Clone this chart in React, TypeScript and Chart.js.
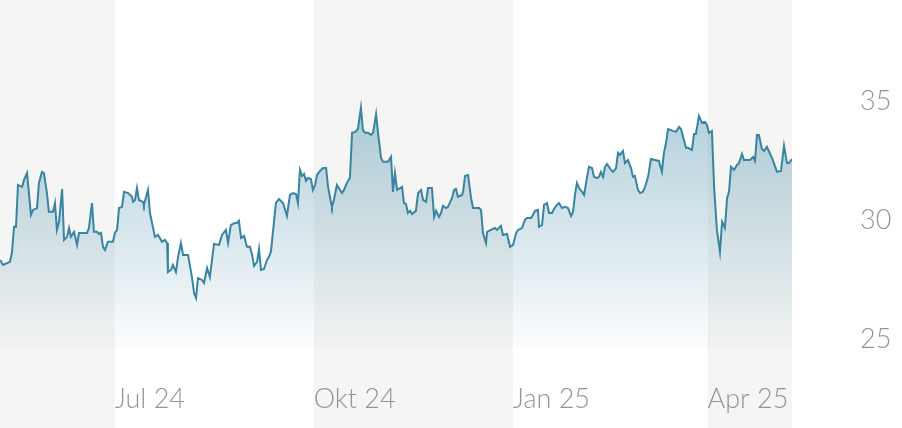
import { useEffect, useRef } from "react";
import { Chart, registerables } from "chart.js";

Chart.register(...registerables);

// Day offsets from 9 May 2024
const tickDays = [53, 145, 237, 327];
const tickLabels = ["Jul 24", "Okt 24", "Jan 25", "Apr 25"];
const yTicks = [25, 30, 35];

const days = [
  0.0, 1.4, 4.6, 5.5, 6.5, 7.4, 8.3, 10.2, 11.1, 12.5, 14.3, 15.3, 17.1, 18.0, 19.4, 20.3, 21.7, 22.6, 24.5, 25.4,
  26.3, 27.3, 28.7, 29.6, 31.0, 31.9, 32.8, 34.2, 35.6, 36.5, 40.2, 41.1, 42.5, 43.4, 44.8, 45.7, 46.7, 47.6, 48.5, 49.9,
  52.2, 53.1, 54.1, 55.0, 56.4, 57.3, 59.2, 61.0, 61.5, 62.4, 63.3, 64.2, 66.1, 66.5, 68.4, 69.3, 71.6, 73.0, 74.9, 76.2,
  77.2, 77.6, 79.0, 79.9, 81.3, 82.3, 83.6, 84.6, 86.9, 88.7, 89.7, 90.6, 91.5, 93.3, 94.3, 95.7, 97.0, 98.9, 101.2, 102.6,
  104.4, 105.4, 106.7, 108.6, 109.5, 110.4, 111.4, 112.8, 114.1, 115.5, 116.5, 117.4, 118.8, 119.7, 120.6, 122.0, 123.4, 124.3, 125.2, 127.5,
  128.9, 130.8, 132.6, 134.0, 135.4, 136.8, 137.7, 138.6, 139.6, 140.5, 141.4, 142.3, 143.7, 144.6, 145.6, 146.5, 147.9, 149.3, 150.7, 151.6,
  153.0, 153.4, 154.3, 155.7, 157.1, 158.0, 159.0, 159.9, 160.8, 161.7, 162.7, 164.1, 165.4, 166.8, 167.7, 168.7, 170.1, 171.4, 172.4, 173.8,
  174.7, 176.1, 177.0, 179.3, 180.7, 181.6, 182.5, 183.5, 185.8, 186.7, 187.6, 188.5, 189.5, 190.4, 192.2, 193.2, 194.6, 195.5, 196.9, 197.8,
  199.6, 200.6, 201.5, 202.9, 203.8, 204.7, 206.1, 207.0, 208.9, 209.8, 210.7, 211.6, 213.5, 214.0, 214.9, 216.3, 217.7, 218.6, 221.4, 222.3,
  223.2, 224.6, 225.1, 226.9, 228.7, 229.7, 231.5, 232.4, 234.3, 235.7, 237.1, 238.5, 239.4, 241.2, 242.6, 243.5, 245.4, 246.3, 247.2, 248.6,
  249.1, 250.5, 251.4, 252.8, 253.7, 255.1, 256.0, 257.4, 258.3, 259.7, 261.1, 262.5, 263.9, 264.8, 265.7, 266.6, 267.6, 269.0, 269.9, 271.3,
  272.2, 273.6, 274.5, 275.9, 276.8, 277.7, 278.7, 279.6, 280.5, 282.4, 283.3, 284.7, 285.6, 286.5, 287.9, 288.8, 290.2, 291.6, 292.5, 293.4,
  294.8, 295.8, 297.1, 298.1, 299.5, 300.8, 302.7, 304.5, 305.9, 306.8, 307.8, 308.7, 311.0, 312.4, 313.8, 314.7, 317.0, 317.9, 319.8, 320.7,
  321.6, 323.0, 324.4, 325.8, 326.7, 327.6, 329.0, 330.0, 331.3, 332.7, 333.7, 335.0, 336.0, 336.9, 337.8, 339.2, 340.6, 341.5, 342.9, 343.8,
  346.6, 348.0, 348.9, 349.8, 350.7, 352.1, 353.1, 354.4, 356.8, 359.1, 360.9, 362.3, 363.7, 364.6, 366.0,
];

const prices = [
  28.32, 28.11, 28.24, 28.61, 29.71, 29.71, 31.47, 31.39, 31.68, 31.97, 30.21, 30.42, 30.50, 31.55, 32.02, 31.97, 31.13, 30.34, 30.34, 30.71,
  29.58, 29.92, 31.30, 29.16, 29.29, 29.66, 29.29, 29.50, 28.95, 29.45, 29.45, 29.66, 30.71, 29.50, 29.50, 29.41, 29.45, 28.87, 28.74, 29.08,
  29.08, 29.45, 29.58, 30.50, 30.55, 31.18, 31.13, 30.97, 30.76, 30.84, 31.34, 30.84, 30.76, 30.63, 31.26, 30.29, 29.29, 29.37, 29.08, 29.16,
  29.03, 27.81, 27.90, 28.11, 27.81, 28.45, 29.03, 28.53, 28.53, 27.60, 26.93, 26.72, 27.56, 27.48, 27.35, 27.98, 27.60, 28.99, 28.95, 29.37,
  29.58, 29.03, 29.79, 29.87, 29.87, 29.96, 29.24, 29.33, 28.87, 28.87, 28.53, 28.07, 28.24, 28.78, 27.90, 27.94, 28.32, 28.45, 28.66, 30.71,
  30.88, 30.71, 30.17, 31.05, 31.13, 31.09, 30.71, 32.10, 31.85, 31.93, 31.64, 31.76, 31.72, 31.26, 31.47, 31.89, 32.06, 32.18, 32.18, 31.39,
  30.71, 30.55, 30.84, 31.47, 31.26, 31.13, 31.26, 31.47, 31.64, 31.76, 33.66, 33.70, 33.82, 34.71, 33.78, 33.66, 33.66, 33.57, 33.66, 34.45,
  33.66, 32.60, 32.44, 32.44, 32.65, 31.18, 31.97, 31.26, 31.39, 30.71, 30.67, 30.29, 30.38, 30.25, 30.38, 31.13, 31.26, 30.84, 30.76, 31.34,
  31.34, 30.13, 30.38, 30.13, 30.29, 30.59, 30.50, 30.55, 30.92, 31.26, 31.30, 30.97, 31.05, 31.18, 31.85, 31.89, 30.92, 30.50, 30.50, 30.42,
  29.45, 29.03, 29.50, 29.58, 29.66, 29.58, 29.75, 29.37, 29.41, 28.87, 28.95, 29.45, 29.58, 29.66, 30.00, 30.08, 30.08, 30.21, 30.38, 30.42,
  29.71, 29.79, 30.63, 30.71, 30.29, 30.29, 30.46, 30.63, 30.71, 30.50, 30.55, 30.50, 30.17, 30.34, 31.05, 31.55, 31.34, 31.18, 31.05, 31.81,
  32.23, 32.18, 31.81, 31.76, 31.81, 32.02, 31.81, 32.23, 32.35, 32.10, 32.02, 32.18, 32.82, 32.73, 32.90, 32.39, 32.52, 32.18, 31.81, 31.85,
  31.26, 31.13, 31.18, 31.39, 31.81, 32.56, 32.52, 32.48, 32.02, 32.82, 33.24, 33.82, 33.74, 33.70, 33.91, 33.82, 33.03, 33.03, 32.94, 33.61,
  33.61, 34.37, 34.08, 34.12, 33.99, 33.66, 33.74, 31.39, 29.58, 28.66, 29.92, 29.66, 30.92, 31.18, 32.23, 32.10, 32.31, 32.39, 32.77, 32.52,
  32.52, 32.65, 32.48, 33.57, 33.57, 32.98, 32.90, 33.07, 32.60, 32.02, 32.06, 33.11, 32.39, 32.39, 32.56,
];

const LINE = "#3784a3";
const BAND = "#f5f5f3";
const TICK_COLOR = "#949494";
const FONT = { family: "Lato, 'Open Sans', sans-serif", size: 27, weight: 300 as any };

const bandPlugin = {
  id: "bands",
  beforeDraw(chart: any) {
    const { ctx } = chart;
    const x = chart.scales.x;
    const edges = [x.min, ...tickDays, x.max];
    ctx.save();
    ctx.fillStyle = BAND;
    for (let i = 0; i + 1 < edges.length; i += 2) {
      const a = x.getPixelForValue(edges[i]);
      const b = x.getPixelForValue(edges[i + 1]);
      ctx.fillRect(a, 0, b - a, chart.height);
    }
    ctx.restore();
  },
};

export default function App() {
  const ref = useRef<HTMLCanvasElement | null>(null);

  useEffect(() => {
    if (!ref.current) return;
    const chart = new Chart(ref.current, {
      type: "line",
      data: {
        datasets: [
          {
            data: days.map((d, i) => ({ x: d, y: prices[i] })),
            borderColor: LINE,
            borderWidth: 2,
            pointRadius: 0,
            tension: 0,
            fill: "start",
            backgroundColor: (c: any) => {
              const area = c.chart.chartArea;
              if (!area) return "rgba(55,132,163,0.3)";
              const g = c.chart.ctx.createLinearGradient(0, area.top, 0, area.bottom);
              g.addColorStop(0, "rgba(55,132,163,0.55)");
              g.addColorStop(1, "rgba(55,132,163,0.02)");
              return g;
            },
          },
        ],
      },
      options: {
        animation: false,
        responsive: false,
        devicePixelRatio: 1,
        layout: { padding: 0 },
        plugins: { legend: { display: false }, tooltip: { enabled: false } },
        scales: {
          x: {
            type: "linear",
            min: 0,
            max: 366,
            grid: { display: false },
            border: { display: false },
            afterBuildTicks: (s: any) => {
              s.ticks = tickDays.map((v) => ({ value: v }));
            },
            afterFit: (s: any) => {
              s.height = 80;
              s.paddingLeft = 0;
              s.paddingRight = 0;
            },
            ticks: {
              autoSkip: false,
              maxRotation: 0,
              align: "start",
              padding: 27,
              color: TICK_COLOR,
              font: FONT,
              callback: (_v: any, i: number) => tickLabels[i],
            },
          },
          y: {
            type: "linear",
            position: "right",
            min: 24.62,
            max: 39.24,
            grid: { display: false },
            border: { display: false },
            afterBuildTicks: (s: any) => {
              s.ticks = yTicks.map((v) => ({ value: v }));
            },
            afterFit: (s: any) => {
              s.width = 110;
              s.paddingTop = 0;
              s.paddingBottom = 0;
            },
            ticks: {
              padding: 60,
              color: TICK_COLOR,
              font: FONT,
              callback: (v: any) => String(v),
            },
          },
        },
      },
      plugins: [bandPlugin],
    });
    return () => chart.destroy();
  }, []);

  return (
    <div style={{ position: "fixed", left: 0, top: 0, width: 902, height: 428, background: "#fff" }}>
      <canvas ref={ref} width={902} height={428} style={{ display: "block" }} />
    </div>
  );
}
